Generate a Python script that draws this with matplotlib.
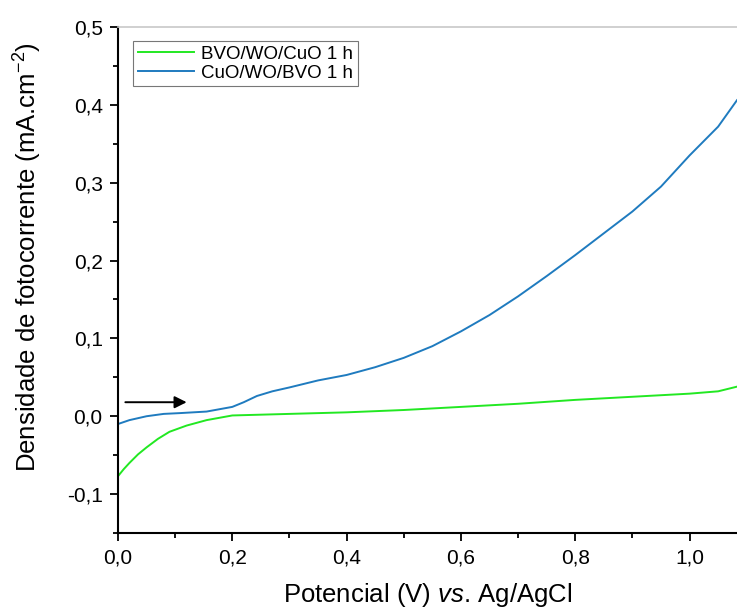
import matplotlib.pyplot as plt
from matplotlib.ticker import MultipleLocator, FuncFormatter

plt.rcParams['font.family'] = ['Liberation Sans', 'DejaVu Sans']
plt.rcParams['mathtext.fontset'] = 'custom'
plt.rcParams['mathtext.rm'] = 'Liberation Sans'
plt.rcParams['mathtext.it'] = 'Liberation Sans:italic'

# potencial (V vs. Ag/AgCl)
v_bwc = [0.0, 0.01, 0.02, 0.035, 0.05, 0.07, 0.09, 0.12, 0.155, 0.2, 0.25, 0.3,
         0.4, 0.5, 0.6, 0.7, 0.8, 0.9, 1.0, 1.05, 1.083]
j_bwc = [-0.077, -0.068, -0.06, -0.049, -0.040, -0.029, -0.020, -0.012, -0.005,
         0.001, 0.002, 0.003, 0.005, 0.008, 0.012, 0.016, 0.021, 0.025, 0.029,
         0.032, 0.038]

v_cwb = [0.0, 0.02, 0.05, 0.08, 0.108, 0.155, 0.2, 0.22, 0.243, 0.27, 0.3, 0.35,
         0.4, 0.45, 0.5, 0.55, 0.6, 0.65, 0.7, 0.75, 0.8, 0.85, 0.9, 0.95, 1.0,
         1.05, 1.083]
j_cwb = [-0.010, -0.005, 0.000, 0.003, 0.004, 0.006, 0.012, 0.018, 0.026, 0.032,
         0.037, 0.046, 0.053, 0.063, 0.075, 0.090, 0.109, 0.130, 0.154, 0.180,
         0.207, 0.235, 0.263, 0.295, 0.335, 0.372, 0.406]

fig = plt.figure(figsize=(7.37, 6.10), dpi=100)
ax = fig.add_axes([118 / 737, 77 / 610, 619 / 737, 506 / 610])

ax.plot(v_bwc, j_bwc, color='#22e822', lw=1.4, label='BVO/WO/CuO 1 h')
ax.plot(v_cwb, j_cwb, color='#1f7bbf', lw=1.4, label='CuO/WO/BVO 1 h')

ax.annotate('', xy=(0.125, 0.018), xytext=(0.008, 0.018),
            arrowprops=dict(arrowstyle='-|>', color='black', lw=1.4,
                            mutation_scale=18))

ax.set_xlim(0, 1.083)
ax.set_ylim(-0.15, 0.5)

comma = FuncFormatter(lambda v, p: f'{v:.1f}'.replace('.', ','))
ax.xaxis.set_major_locator(MultipleLocator(0.2))
ax.xaxis.set_minor_locator(MultipleLocator(0.1))
ax.yaxis.set_major_locator(MultipleLocator(0.1))
ax.yaxis.set_minor_locator(MultipleLocator(0.05))
ax.xaxis.set_major_formatter(comma)
ax.yaxis.set_major_formatter(comma)

ax.tick_params(which='major', direction='out', length=6, width=1.3,
               labelsize=15, pad=5)
ax.tick_params(which='minor', direction='out', length=3.5, width=1.3)
ax.tick_params(top=False, right=False, which='both')

for s in ['left', 'bottom']:
    ax.spines[s].set_linewidth(1.5)
ax.spines['right'].set_visible(False)
ax.spines['top'].set_color('#c8c8c8')
ax.spines['top'].set_linewidth(1.2)

ax.set_xlabel('Potencial (V) $\\it{vs}$. Ag/AgCl', fontsize=18.5, labelpad=10)
ax.set_ylabel('Densidade de fotocorrente (mA.cm$^{-2}$)', fontsize=18.5)
ax.yaxis.set_label_coords(-0.12, 0.545)

leg = ax.legend(loc='upper left', bbox_to_anchor=(0.018, 0.98), fontsize=13.5,
                frameon=True, fancybox=False, handlelength=3.0,
                borderpad=0.25, labelspacing=0.1, handletextpad=0.4,
                borderaxespad=0.2)
leg.get_frame().set_edgecolor('#555555')
leg.get_frame().set_linewidth(0.8)

fig.savefig('out.png', dpi=100)
